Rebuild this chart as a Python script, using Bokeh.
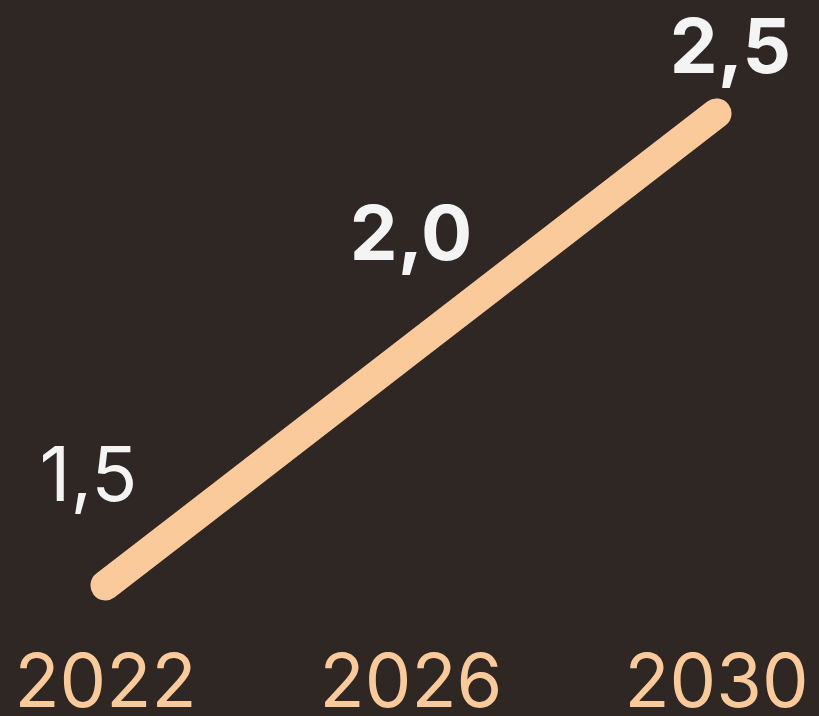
from bokeh.plotting import figure
from bokeh.models import ColumnDataSource, Range1d, FixedTicker
from bokeh.core.properties import value
from bokeh.embed import file_html
from bokeh.resources import INLINE

# data
years = [2022, 2026, 2030]
values = [1.5, 2.0, 2.5]
labels = ["1,5", "2,0", "2,5"]
label_styles = ["normal", "bold", "bold"]
tick_labels = {2022: "2022", 2026: "2026", 2030: "2030"}

# label placement (pixels)
label_dx = [-17, 0, 14]
label_dy = [-112, -117, -68]

BG = "#2e2723"
PEACH = "#fbca9b"
WHITE = "#f4f4f4"
FONT = "Inter"

p = figure(width=819, height=716, output_backend="svg", toolbar_location=None,
           x_range=Range1d(2020.6252, 2031.3486), y_range=Range1d(1.358, 2.7394),
           min_border_left=0, min_border_right=0, min_border_top=0, min_border_bottom=64,
           background_fill_color=BG, border_fill_color=BG, outline_line_color=None)
p.xgrid.visible = False
p.ygrid.visible = False
p.yaxis.visible = False

ax = p.xaxis[0]
ax.ticker = FixedTicker(ticks=years)
ax.major_label_overrides = tick_labels
ax.axis_line_color = None
ax.major_tick_line_color = None
ax.minor_tick_line_color = None
ax.major_tick_out = 0
ax.major_tick_in = 0
ax.major_label_standoff = 0
ax.major_label_text_font = FONT
ax.major_label_text_font_size = "74px"
ax.major_label_text_color = PEACH

src = ColumnDataSource(dict(x=years, y=values, text=labels, style=label_styles,
                            dx=label_dx, dy=label_dy))
p.line("x", "y", source=src, line_width=30, line_color=PEACH, line_cap="round")
p.text("x", "y", text="text", source=src, x_offset="dx", y_offset="dy",
       text_align="center", text_baseline="alphabetic",
       text_font=value(FONT), text_font_size="76px", text_font_style="style",
       text_color=WHITE)

html = file_html(p, INLINE)
html = html.replace("</head>", "<style>html,body{background:%s;}</style></head>" % BG, 1)
open("out.html", "w").write(html)
